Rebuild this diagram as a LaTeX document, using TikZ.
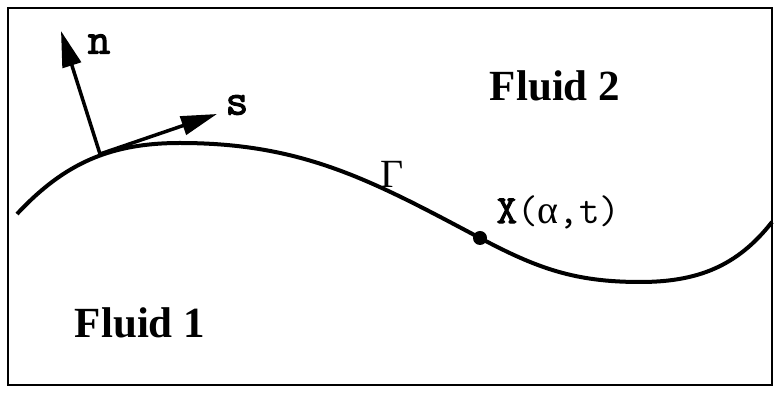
\documentclass[tikz,border=0pt]{standalone}
\usepackage{fontspec}
\setmainfont{Liberation Serif}
\newfontfamily\courbf[FakeBold=2.5]{Latin Modern Mono}
\usepackage{tikz}
\usetikzlibrary{calc,arrows.meta,positioning}
\tikzset{
  ar/.style={-{Triangle[length=36pt,width=19pt]},line width=3.5pt,black},
  iface/.style={line width=4pt,black},
  fluidlbl/.style={font=\fontsize{43}{47}\selectfont\bfseries},
  vlbl/.style={font=\fontsize{44}{48}\selectfont\courbf}
}
\begin{document}
\begin{tikzpicture}[x=1pt,y=1pt]
\useasboundingbox (0,0) rectangle (777,393);
\draw[line width=2pt] (8,8) rectangle (772,385);
% interface
\draw[iface] (17,179) to[out=47,in=180] (180,250)
  to[out=0,in=152] (480,155)
  to[out=-28,in=180] (640,111)
  to[out=0,in=232] (772,171);
\coordinate (base) at (100,239);
\coordinate (ntip) at (61,362);
\coordinate (stip) at (217,279);
\draw[ar] (base) -- (ntip);
\draw[ar] (base) -- (stip);
\node[vlbl] (nlbl) at (99,349) {n};
\node[vlbl] (slbl) at (237,288) {s};
\fill (480,155) circle (7pt) coordinate (xpt);
\node[font=\fontsize{40}{44}\selectfont] (gam) at (392,219) {Γ};
\node[font=\fontsize{40}{44}\selectfont\ttfamily,anchor=west] (xlbl) at (493,181) {{\courbf X}(\rmfamily α\ttfamily,t)};
\node[fluidlbl] (f2) at (555,307) {Fluid 2};
\node[fluidlbl] (f1) at (140,70) {Fluid 1};
\end{tikzpicture}
\end{document}
